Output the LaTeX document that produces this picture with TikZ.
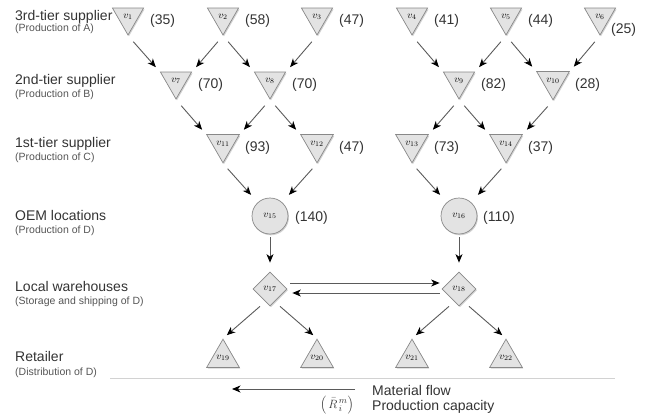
\documentclass[tikz,border=0pt]{standalone}
\usepackage{fontspec}
\setmainfont{Liberation Sans}
\usetikzlibrary{arrows.meta,shapes.geometric,shadows}
\definecolor{nodefill}{HTML}{E3E3E3}
\definecolor{nodeline}{HTML}{888888}
\definecolor{edgecol}{HTML}{5A5A5A}
\definecolor{headcol}{HTML}{333333}
\definecolor{subcol}{HTML}{555555}
\definecolor{sepcol}{HTML}{D2D2D2}
\begin{document}
\begin{tikzpicture}[x=1pt,y=-1pt,
  nd/.style={fill=nodefill, draw=nodeline, line width=0.7pt, inner sep=0pt,
    drop shadow={shadow xshift=1pt, shadow yshift=-1.3pt, opacity=0.35},
    font=\fontsize{10}{10}\selectfont},
  tdown/.style={nd, regular polygon, regular polygon sides=3, shape border rotate=180, minimum size=36pt},
  tup/.style={nd, regular polygon, regular polygon sides=3, minimum size=36pt},
  oem/.style={nd, circle, minimum size=36pt},
  wh/.style={nd, diamond, minimum size=34pt},
  capl/.style={anchor=west, inner sep=0pt, text=headcol, font=\fontsize{14}{16}\selectfont},
  head/.style={anchor=base west, inner sep=0pt, text=headcol, font=\fontsize{14}{16}\selectfont},
  sub/.style={anchor=base west, inner sep=0pt, text=subcol, font=\fontsize{10.5}{12}\selectfont},
  arr/.style={draw=edgecol, line width=0.9pt, -{Stealth[length=8.5pt,width=7pt,inset=2.5pt,color=black]}},
  tt/.style={arr, shorten <=8pt, shorten >=6pt},
  tc/.style={arr, shorten <=7pt, shorten >=10pt},
  sepline/.style={draw=sepcol, line width=0.6pt}
]
\useasboundingbox (0,0) rectangle (648,418);

% row labels
\node[head] (h1) at (15,20) {3rd-tier supplier};
\node[sub]  (s1) at (15,31) {(Production of A)};
\node[head] (h2) at (15,84) {2nd-tier supplier};
\node[sub]  (s2) at (15,97) {(Production of B)};
\node[head] (h3) at (15,147) {1st-tier supplier};
\node[sub]  (s3) at (15,160) {(Production of C)};
\node[head] (h4) at (15,220) {OEM locations};
\node[sub]  (s4) at (15,233) {(Production of D)};
\node[head] (h5) at (15,291) {Local warehouses};
\node[sub]  (s5) at (15,304) {(Storage and shipping of D)};
\node[head] (h6) at (15,361) {Retailer};
\node[sub]  (s6) at (15,375) {(Distribution of D)};

% nodes
\node[tdown] (v1) at (128,17) {$v_{1}$};
\node[tdown] (v2) at (223,17) {$v_{2}$};
\node[tdown] (v3) at (317,17) {$v_{3}$};
\node[tdown] (v4) at (412,17) {$v_{4}$};
\node[tdown] (v5) at (506,17) {$v_{5}$};
\node[tdown] (v6) at (600,17) {$v_{6}$};
\node[tdown] (v7) at (176,81) {$v_{7}$};
\node[tdown] (v8) at (270,81) {$v_{8}$};
\node[tdown] (v9) at (459,81) {$v_{9}$};
\node[tdown] (v10) at (553,81) {$v_{10}$};
\node[tdown] (v11) at (223,144) {$v_{11}$};
\node[tdown] (v12) at (317,144) {$v_{12}$};
\node[tdown] (v13) at (412,144) {$v_{13}$};
\node[tdown] (v14) at (506,144) {$v_{14}$};
\node[oem] (v15) at (270,216) {$v_{15}$};
\node[oem] (v16) at (459,216) {$v_{16}$};
\node[wh] (v17) at (270,289) {$v_{17}$};
\node[wh] (v18) at (459,289) {$v_{18}$};
\node[tup] (v19) at (223,358) {$v_{19}$};
\node[tup] (v20) at (317,358) {$v_{20}$};
\node[tup] (v21) at (412,358) {$v_{21}$};
\node[tup] (v22) at (506,358) {$v_{22}$};

% capacities
\node[capl] (c1) at ([shift={(22,4)}]v1.center) {(35)};
\node[capl] (c2) at ([shift={(22,4)}]v2.center) {(58)};
\node[capl] (c3) at ([shift={(22,4)}]v3.center) {(47)};
\node[capl] (c4) at ([shift={(22,4)}]v4.center) {(41)};
\node[capl] (c5) at ([shift={(22,4)}]v5.center) {(44)};
\node[capl] (c6) at ([shift={(11,13)}]v6.center) {(25)};
\node[capl] (c7) at ([shift={(22,4)}]v7.center) {(70)};
\node[capl] (c8) at ([shift={(22,4)}]v8.center) {(70)};
\node[capl] (c9) at ([shift={(22,4)}]v9.center) {(82)};
\node[capl] (c10) at ([shift={(22,4)}]v10.center) {(28)};
\node[capl] (c11) at ([shift={(22,4)}]v11.center) {(93)};
\node[capl] (c12) at ([shift={(22,4)}]v12.center) {(47)};
\node[capl] (c13) at ([shift={(22,4)}]v13.center) {(73)};
\node[capl] (c14) at ([shift={(22,4)}]v14.center) {(37)};
\node[capl] (c15) at ([shift={(25,2)}]v15.center) {(140)};
\node[capl] (c16) at ([shift={(24,2)}]v16.center) {(110)};

% tier edges
\draw[tt] (v1.south) -- (v7.150);
\draw[tt] (v2.south) -- (v7.30);
\draw[tt] (v2.south) -- (v8.150);
\draw[tt] (v3.south) -- (v8.30);
\draw[tt] (v7.south) -- (v11.150);
\draw[tt] (v8.south) -- (v11.30);
\draw[tt] (v8.south) -- (v12.150);
\draw[tt] (v4.south) -- (v9.150);
\draw[tt] (v5.south) -- (v9.30);
\draw[tt] (v5.south) -- (v10.150);
\draw[tt] (v6.south) -- (v10.30);
\draw[tt] (v9.south) -- (v13.30);
\draw[tt] (v9.south) -- (v14.150);
\draw[tt] (v10.south) -- (v14.30);
\draw[tc] (v11.south) -- (v15);
\draw[tc] (v12.south) -- (v15);
\draw[tc] (v13.south) -- (v16);
\draw[tc] (v14.south) -- (v16);
\draw[arr, shorten <=3pt, shorten >=9pt] (v15) -- (v17);
\draw[arr, shorten <=3pt, shorten >=9pt] (v16) -- (v18);

% warehouse exchange
\draw[arr, shorten <=3pt, shorten >=2pt] ([yshift=6pt]v17.east) -- ([yshift=6pt]v18.west);
\draw[arr, shorten <=2pt, shorten >=5pt] ([yshift=-4pt]v18.west) -- ([yshift=-4pt]v17.east);

% distribution
\draw[arr, shorten >=5pt] ([xshift=-10pt]v17.south) -- (v19.north);
\draw[arr, shorten >=5pt] ([xshift=10pt]v17.south) -- (v20.north);
\draw[arr, shorten >=5pt] ([xshift=-10pt]v18.south) -- (v21.north);
\draw[arr, shorten >=5pt] ([xshift=10pt]v18.south) -- (v22.north);

% legend
\coordinate (sepL) at (110,378);
\coordinate (sepR) at (615,378);
\draw[sepline] (sepL) -- (sepR);
\coordinate (lgS) at (355,389);
\coordinate (lgE) at (232,389);
\draw[arr] (lgS) -- (lgE);
\node[head] (lm) at (372,395) {Material flow};
\node[head] (lp) at (372,410) {Production capacity};
\node[inner sep=0pt, text=headcol, font=\fontsize{13}{13}\selectfont] (lr) at (337,405) {$\Bigl(\,\bar{R}_{\,i}^{\,m}\Bigr)$};
\end{tikzpicture}
\end{document}
